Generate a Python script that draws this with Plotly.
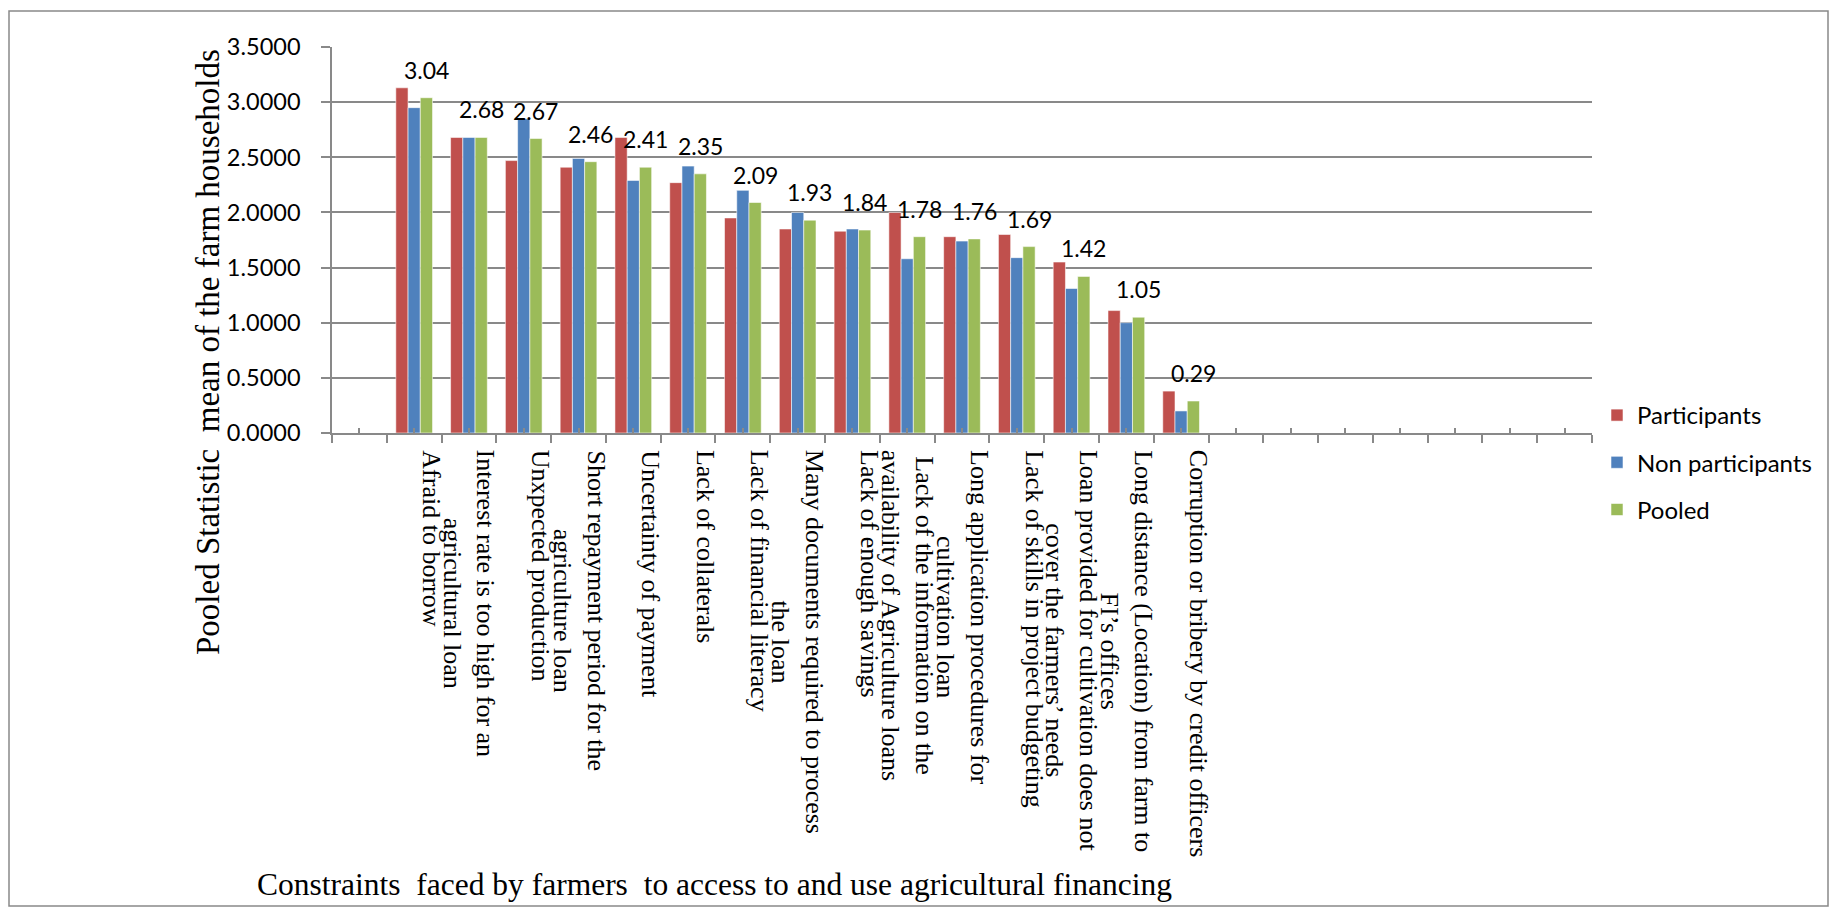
import plotly.graph_objects as go

# Constraints to accessing agricultural financing (mean scores)
categories = [
    "Afraid to borrow",
    "Interest rate is too high for an<br>agricultural loan",
    "Unxpected production",
    "Short repayment period for the<br>agriculture loan",
    "Uncertainty of payment",
    "Lack of collaterals",
    "Lack of financial literacy",
    "Many documents required to process<br>the loan",
    "Lack of enough savings",
    "Lack of the information on the<br>availability of Agriculture loans",
    "Long application procedures for<br>cultivation loan",
    "Lack of skills in project budgeting",
    "Loan provided for cultivation does not<br>cover the farmers\u2019 needs",
    "Long distance (Location) from farm to<br>FI\u2019s offices",
    "Corruption or bribery by credit officers",
]
participants = [3.13, 2.68, 2.47, 2.41, 2.68, 2.27, 1.95, 1.85, 1.83, 2.00, 1.78, 1.80, 1.55, 1.11, 0.38]
non_participants = [2.95, 2.68, 2.85, 2.49, 2.29, 2.42, 2.20, 2.00, 1.85, 1.58, 1.74, 1.59, 1.31, 1.00, 0.20]
pooled = [3.04, 2.68, 2.67, 2.46, 2.41, 2.35, 2.09, 1.93, 1.84, 1.78, 1.76, 1.69, 1.42, 1.05, 0.29]

y_ticks = [0.0, 0.5, 1.0, 1.5, 2.0, 2.5, 3.0, 3.5]

# Category slots on the axis: one empty slot before, empty slots after
LEAD_SLOTS = 1
TOTAL_SLOTS = 23
xpos = [LEAD_SLOTS + i for i in range(len(categories))]

W, H = 1836, 909
ML, MR, MT, MB = 332, 244, 47, 476
PW = W - ML - MR
PH = H - MT - MB
BARGAP = 0.33

GRID = "#898989"
SERIF = "Liberation Serif"
SANS = "Lato"


def px_to_paper_x(px):
    return (px - ML) / PW


def px_to_paper_y(py):
    return (H - MB - py) / PH


fig = go.Figure()
series = [
    ("Participants", participants, "#C0504D"),
    ("Non participants", non_participants, "#4F81BD"),
    ("Pooled", pooled, "#9BBB59"),
]
for name, vals, color in series:
    fig.add_trace(go.Bar(
        x=xpos, y=vals, name=name, legendgroup=name,
        marker=dict(color=color, line=dict(color="rgba(255,255,255,0.55)", width=1)),
        hoverinfo="x+y+name",
    ))

annotations = []
# Category labels, rotated and centred line by line
for xv, label in zip(xpos, categories):
    annotations.append(dict(
        x=xv, y=0, xref="x", yref="y",
        text=label, textangle=90, align="center",
        xanchor="right", yanchor="top", xshift=34, yshift=-15,
        showarrow=False,
        font=dict(family=SERIF, size=26, color="black"),
    ))

# Value labels above the pooled bars
bar_w = (1 - BARGAP) / 3
for xv, v in zip(xpos, pooled):
    annotations.append(dict(
        x=xv + bar_w, y=v, xref="x", yref="y",
        text=f"{v:.2f}", xanchor="center", yanchor="bottom", yshift=12,
        showarrow=False,
        font=dict(family=SANS, size=23, color="black"),
    ))

# Axis titles
annotations.append(dict(
    x=px_to_paper_x(714), y=px_to_paper_y(885), xref="paper", yref="paper",
    text="Constraints\u00a0 faced by farmers\u00a0 to access to and use agricultural financing",
    xanchor="center", yanchor="middle", showarrow=False,
    font=dict(family=SERIF, size=31.5, color="black"),
))
annotations.append(dict(
    x=px_to_paper_x(208), y=px_to_paper_y(352), xref="paper", yref="paper",
    text="Pooled Statistic\u00a0 mean of the farm households",
    textangle=-90, xanchor="center", yanchor="middle", showarrow=False,
    font=dict(family=SERIF, size=33, color="black"),
))

fig.update_layout(
    width=W, height=H,
    margin=dict(l=ML, r=MR, t=MT, b=MB, autoexpand=False),
    paper_bgcolor="white", plot_bgcolor="white",
    barmode="group", bargap=BARGAP, bargroupgap=0,
    showlegend=True,
    legend=dict(
        x=px_to_paper_x(1597), y=px_to_paper_y(393), xanchor="left", yanchor="top",
        font=dict(family=SANS, size=24, color="black"),
        tracegroupgap=13, bgcolor="rgba(0,0,0,0)",
    ),
    annotations=annotations,
    shapes=[dict(
        type="rect", xref="paper", yref="paper",
        x0=px_to_paper_x(9), x1=px_to_paper_x(1828),
        y0=px_to_paper_y(11), y1=px_to_paper_y(906),
        line=dict(color=GRID, width=1.5), fillcolor="rgba(0,0,0,0)", layer="below",
    )],
    xaxis=dict(
        range=[-0.5, TOTAL_SLOTS - 0.5],
        tickmode="array",
        tickvals=[i - 0.5 for i in range(TOTAL_SLOTS + 1)],
        showticklabels=False,
        ticks="outside", ticklen=8, tickwidth=1.5, tickcolor=GRID,
        minor=dict(tickmode="array", tickvals=list(range(TOTAL_SLOTS)),
                   ticks="inside", ticklen=5, tickwidth=1.5, tickcolor=GRID),
        showgrid=False, zeroline=False,
        showline=True, linecolor=GRID, linewidth=1.5,
        fixedrange=True,
    ),
    yaxis=dict(
        range=[0, 3.5],
        tickmode="array", tickvals=y_ticks, tickformat=".4f",
        ticks="outside", ticklen=9, tickwidth=1.5, tickcolor=GRID,
        ticklabelstandoff=16,
        tickfont=dict(family=SANS, size=23.5, color="black"),
        showgrid=True, gridcolor=GRID, gridwidth=1.5,
        zeroline=False,
        showline=True, linecolor=GRID, linewidth=1.5,
        fixedrange=True,
    ),
)

fig.write_html("out.html")
